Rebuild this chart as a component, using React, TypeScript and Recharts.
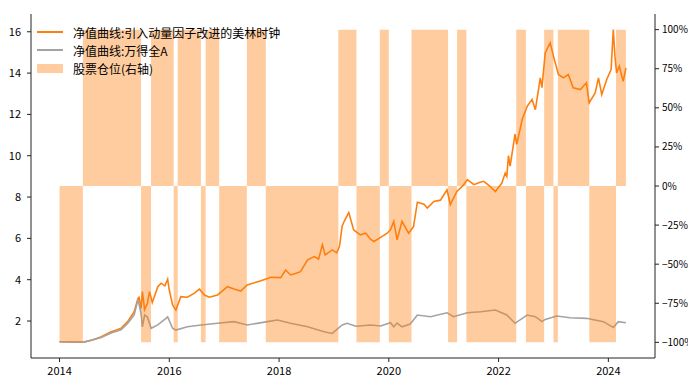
import React from "react";
import { ComposedChart, Line, Area, XAxis, YAxis } from "recharts";

// 净值曲线:引入动量因子改进的美林时钟 (decimal year, nav)
const strategyDates = [
  2014.0, 2014.15, 2014.3, 2014.45, 2014.6, 2014.76, 2014.94, 2015.05, 2015.12, 2015.24,
  2015.36, 2015.43, 2015.45, 2015.485, 2015.51, 2015.55, 2015.6, 2015.64, 2015.69, 2015.79,
  2015.85, 2015.92, 2015.97, 2016.0, 2016.06, 2016.12, 2016.21, 2016.33, 2016.45, 2016.55,
  2016.64, 2016.73, 2016.88, 2017.06, 2017.18, 2017.3, 2017.42, 2017.55, 2017.67, 2017.85,
  2018.03, 2018.12, 2018.21, 2018.3, 2018.39, 2018.52, 2018.64, 2018.72, 2018.79, 2018.84,
  2018.97, 2019.05, 2019.1, 2019.15, 2019.2, 2019.27, 2019.36, 2019.48, 2019.58, 2019.67,
  2019.73, 2019.85, 2019.97, 2020.03, 2020.09, 2020.15, 2020.24, 2020.36, 2020.45, 2020.52,
  2020.64, 2020.7, 2020.82, 2020.94, 2021.06, 2021.12, 2021.24, 2021.35, 2021.43, 2021.55,
  2021.65, 2021.73, 2021.85, 2021.94, 2022.06, 2022.12, 2022.15, 2022.18, 2022.21, 2022.3,
  2022.33, 2022.43, 2022.52, 2022.61, 2022.67, 2022.76, 2022.79, 2022.85, 2022.94, 2023.0,
  2023.09, 2023.18, 2023.27, 2023.36, 2023.49, 2023.6, 2023.65, 2023.76, 2023.82, 2023.88,
  2023.97, 2024.05, 2024.09, 2024.12, 2024.15, 2024.2, 2024.27, 2024.32,
];
const strategyNav = [
  1.0, 0.99, 0.98, 0.99, 1.08, 1.24, 1.48, 1.58, 1.65, 1.97,
  2.45, 3.1, 3.15, 2.6, 3.42, 2.55, 2.85, 3.42, 2.9, 3.66,
  3.83, 3.7, 4.02, 3.5, 2.78, 2.53, 3.18, 3.15, 3.34, 3.54,
  3.26, 3.15, 3.26, 3.66, 3.55, 3.45, 3.75, 3.85, 3.95, 4.12,
  4.1, 4.47, 4.23, 4.3, 4.39, 4.96, 5.12, 5.0, 5.69, 5.2,
  5.44, 5.3, 5.6, 6.6, 6.9, 7.25, 6.41, 6.17, 6.25, 5.95,
  5.85, 6.05, 6.25, 6.41, 6.82, 5.93, 6.82, 6.25, 6.57, 7.75,
  7.65, 7.47, 7.79, 7.85, 8.35, 7.63, 8.27, 8.55, 8.84, 8.6,
  8.7, 8.76, 8.5, 8.27, 8.68, 9.16, 9.0, 10.0, 9.5, 11.05,
  10.55, 11.75, 12.39, 12.72, 12.23, 13.77, 13.3, 14.98, 15.47, 14.82,
  13.93, 13.77, 13.93, 13.29, 13.2, 13.53, 12.56, 13.04, 13.77, 12.96,
  13.69, 14.17, 16.11, 14.82, 14.01, 14.34, 13.6, 14.25,
];

// 净值曲线:万得全A
const benchDates = [
  2014.0, 2014.45, 2014.76, 2014.94, 2015.12, 2015.24, 2015.36, 2015.43, 2015.485, 2015.51,
  2015.55, 2015.6, 2015.67, 2015.79, 2015.94, 2015.97, 2016.06, 2016.12, 2016.33, 2016.58,
  2016.88, 2017.18, 2017.42, 2017.79, 2017.97, 2018.21, 2018.52, 2018.82, 2018.97, 2019.15,
  2019.24, 2019.4, 2019.67, 2019.85, 2020.03, 2020.09, 2020.15, 2020.24, 2020.39, 2020.52,
  2020.76, 2021.06, 2021.18, 2021.43, 2021.67, 2021.94, 2022.15, 2022.3, 2022.52, 2022.67,
  2022.79, 2022.85, 2023.06, 2023.3, 2023.6, 2023.91, 2024.09, 2024.18, 2024.32,
];
const benchNav = [
  1.0, 0.98, 1.2, 1.42, 1.58, 1.88, 2.3, 3.05, 2.37, 1.72,
  2.29, 2.2, 1.65, 1.81, 2.13, 2.2, 1.65, 1.56, 1.72, 1.81,
  1.89, 1.97, 1.81, 1.97, 2.05, 1.89, 1.72, 1.48, 1.4, 1.81,
  1.89, 1.75, 1.81, 1.76, 1.92, 1.72, 1.9, 1.72, 1.85, 2.29,
  2.21, 2.4, 2.21, 2.4, 2.45, 2.53, 2.29, 1.89, 2.29, 2.21,
  1.97, 2.08, 2.24, 2.16, 2.13, 1.97, 1.69, 1.97, 1.92,
];

// 股票仓位: value holds from each date until the next
const positionDates = [
  2014.0, 2014.425, 2015.485, 2015.667, 2016.08, 2016.153, 2016.576, 2016.662, 2016.909, 2017.413,
  2017.758, 2019.08, 2019.41, 2019.836, 2020.0, 2020.413, 2021.08, 2021.244, 2021.413, 2022.322,
  2022.498, 2022.83, 2023.0, 2023.08, 2023.653, 2024.14, 2024.32,
];
const positionValues = [
  -1, 1, -1, 1, -1, 1, -1, 1, -1, 1,
  -1, 1, -1, 1, -1, 1, -1, 1, -1, 1,
  -1, 1, -1, 1, -1, 1, 1,
];

const yearTicks = [2014, 2016, 2018, 2020, 2022, 2024];
const navTicks = [2, 4, 6, 8, 10, 12, 14, 16];
const positionTicks = [-1, -0.75, -0.5, -0.25, 0, 0.25, 0.5, 0.75, 1];

const ORANGE = "#ff7f0e";
const GRAY = "#a3a3a3";
const FONT = '"Noto Sans CJK SC", sans-serif';

const positionAt = (t: number) => {
  let v = positionValues[0];
  positionDates.forEach((d, i) => {
    if (d <= t) v = positionValues[i];
  });
  return v;
};

const strategyMap = new Map(strategyDates.map((d, i) => [d, strategyNav[i]]));
const benchMap = new Map(benchDates.map((d, i) => [d, benchNav[i]]));
const allDates = Array.from(new Set([...strategyDates, ...benchDates, ...positionDates])).sort(
  (a, b) => a - b
);
const data = allDates.map((t) => ({
  t,
  strategy: strategyMap.get(t),
  bench: benchMap.get(t),
  position: positionAt(t),
}));

const pct = (v: number) => {
  const n = Math.round(v * 100);
  return n < 0 ? `\u2212${-n}%` : `${n}%`;
};

const tickStyle = { fontSize: 11, fill: "#000", fontFamily: FONT };
const rightTickStyle = { fontSize: 10, fill: "#000", fontFamily: FONT };

const legendItems = [
  { label: "净值曲线:引入动量因子改进的美林时钟", kind: "line", color: ORANGE },
  { label: "净值曲线:万得全A", kind: "line", color: GRAY },
  { label: "股票仓位(右轴)", kind: "patch", color: "rgba(255,127,14,0.4)" },
];

export default function App() {
  return (
    <div style={{ position: "relative", width: 688, height: 379, fontFamily: FONT }}>
      <ComposedChart width={688} height={379} data={data} margin={{ top: 6, right: 0, bottom: 0, left: 0 }}>
        <XAxis
          xAxisId="top"
          orientation="top"
          dataKey="t"
          type="number"
          domain={[2013.48, 2024.85]}
          height={0}
          tick={false}
          tickLine={false}
          stroke="#222"
          allowDataOverflow
        />
        <XAxis
          dataKey="t"
          type="number"
          domain={[2013.48, 2024.85]}
          ticks={yearTicks}
          tick={tickStyle}
          tickSize={4}
          tickMargin={5}
          height={29}
          stroke="#222"
          allowDataOverflow
        />
        <YAxis
          yAxisId="left"
          type="number"
          domain={[0.21, 16.86]}
          ticks={navTicks}
          tick={tickStyle}
          tickSize={4}
          tickMargin={6}
          width={23}
          stroke="#222"
          allowDataOverflow
        />
        <YAxis
          yAxisId="right"
          orientation="right"
          type="number"
          domain={[-1.1, 1.1]}
          ticks={positionTicks}
          tickFormatter={pct}
          tick={rightTickStyle}
          tickSize={4}
          tickMargin={3}
          width={41}
          stroke="#222"
          allowDataOverflow
        />
        <Line
          yAxisId="left"
          dataKey="strategy"
          stroke={ORANGE}
          strokeWidth={1.6}
          dot={false}
          connectNulls
          isAnimationActive={false}
        />
        <Line
          yAxisId="left"
          dataKey="bench"
          stroke={GRAY}
          strokeWidth={1.6}
          dot={false}
          connectNulls
          isAnimationActive={false}
        />
        <Area
          yAxisId="right"
          type="stepAfter"
          dataKey="position"
          fill={ORANGE}
          fillOpacity={0.4}
          stroke="none"
          zIndex={500}
          isAnimationActive={false}
        />
      </ComposedChart>
      <div style={{ position: "absolute", left: 29, top: 15, fontSize: 12, color: "#000" }}>
        {legendItems.map((item) => (
          <div key={item.label} style={{ display: "flex", alignItems: "center", height: 18 }}>
            {item.kind === "line" ? (
              <span style={{ width: 26, height: 2, background: item.color, marginRight: 10 }} />
            ) : (
              <span style={{ width: 26, height: 9, background: item.color, marginRight: 10 }} />
            )}
            <span>{item.label}</span>
          </div>
        ))}
      </div>
    </div>
  );
}
